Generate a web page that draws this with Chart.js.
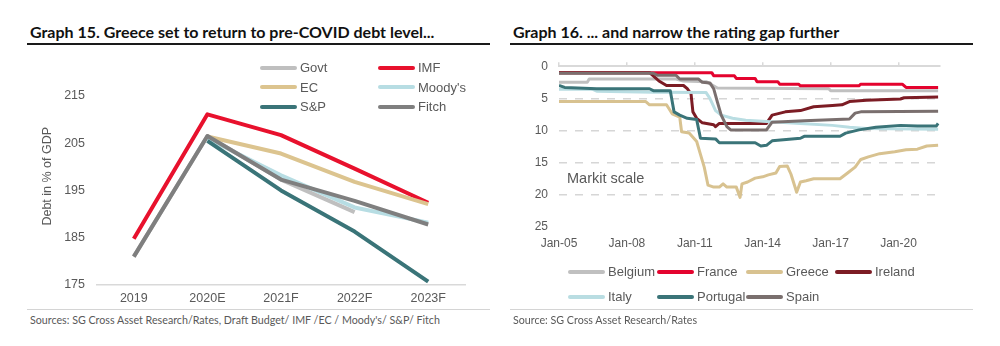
<!DOCTYPE html>
<html>
<head>
<meta charset="utf-8">
<script src="https://cdn.jsdelivr.net/npm/chart.js@4.4.0/dist/chart.umd.min.js"></script>
<style>
    body { margin: 0; width: 1000px; height: 346px; background: #fff; position: relative; overflow: hidden; font-family: "Liberation Sans", Arial, sans-serif; }
    .title { position: absolute; top: 22px; font: 700 16px/19px Lato, sans-serif; color: #111; white-space: nowrap; }
    .rule { position: absolute; top: 43px; height: 2px; background: #1a1a1a; }
    .src-rule { position: absolute; top: 309px; height: 1px; background: #d4d4d4; }
    .src { position: absolute; top: 313px; font: 10.7px/13px Lato, sans-serif; color: #595959; white-space: nowrap; }
    .box { position: absolute; }
    .lg-item { position: absolute; display: flex; align-items: center; font-size: 13px; color: #595959; white-space: nowrap; }
    .lg-item span.sw { display: inline-block; width: 37px; height: 4px; border-radius: 2px; margin-right: 3px; }
    .note { position: absolute; left: 567px; top: 170px; font-size: 14.5px; color: #595959; }
</style>
</head>
<body>
<div class="title" style="left:30px">Graph 15. Greece set to return to pre-COVID debt level...</div>
<div class="rule" style="left:27px;width:463px"></div>
<div class="title" style="left:513px">Graph 16. ... and narrow the rating gap further</div>
<div class="rule" style="left:510px;width:463px"></div>

<div class="box" style="left:0;top:48px;width:500px;height:260px"><canvas id="debt_chart" width="500" height="260"></canvas></div>
<div class="box" style="left:500px;top:48px;width:500px;height:210px"><canvas id="rating_chart" width="500" height="210"></canvas></div>
<div class="note">Markit scale</div>
<div id="debt_legend"></div>
<div id="rating_legend"></div>

<div class="src-rule" style="left:27px;width:463px"></div>
<div class="src" style="left:30px">Sources: SG Cross Asset Research/Rates, Draft Budget/ IMF /EC / Moody's/ S&amp;P/ Fitch</div>
<div class="src-rule" style="left:510px;width:463px"></div>
<div class="src" style="left:513px">Source: SG Cross Asset Research/Rates</div>

<script>
"use strict";

// Graph 15 - debt in % of GDP
var debtYears = ['2019', '2020E', '2021F', '2022F', '2023F'];
var debtTicks = [175, 185, 195, 205, 215];
var govt    = [181, 206.5, 197.3, 190.4, null];
var imf     = [184.8, 211.1, 206.7, 199.6, 192.4];
var ec      = [null, 206.4, 202.8, 196.8, 192.1];
var moodys  = [null, 206.0, 198.2, 191.4, 188.2];
var sp      = [null, 205.5, 195.0, 186.3, 175.7];
var fitch   = [181, 206.5, 197.3, 192.8, 187.8];

// Graph 16 - Markit rating scale, [months since Jan-05, rating]
var ratingTickMonths = [0, 36, 72, 108, 144, 180];
var ratingTickLabels = ['Jan-05', 'Jan-08', 'Jan-11', 'Jan-14', 'Jan-17', 'Jan-20'];
var belgium  = [[0,2.5],[15,2.5],[16,2.0],[62,2.0],[66,2.3],[78,2.4],[84,3.4],[143,3.5],[144,3.8],[201,3.8]];
var france   = [[0,1],[81,1],[82,1.5],[93,1.5],[94,1.9],[104,1.9],[105,2.4],[116,2.4],[117,2.8],[127,2.8],[128,3.05],[159,3.05],[160,2.8],[182,2.8],[184,3.3],[201,3.3]];
var greece   = [[0,5.5],[46,5.5],[48,6.0],[57,6.0],[60,7.4],[64,7.9],[65,10.2],[69,10.4],[73,11.7],[75,13.7],[77,15.7],[79,18.5],[82,18.8],[85,18.8],[87,18.3],[89,18.8],[94,18.8],[96,20.4],[97,18.3],[100,18.0],[104,17.4],[108,17.2],[111,16.9],[115,16.6],[117,15.6],[121,15.5],[123,16.8],[126,19.6],[128,18.0],[131,17.8],[135,17.5],[149,17.5],[153,16.6],[157,15.7],[160,14.5],[164,14.1],[170,13.6],[178,13.3],[184,13.0],[190,12.9],[195,12.4],[201,12.3]];
var ireland  = [[0,1],[48,1],[50,1.5],[53,2.3],[57,3.0],[66,3.0],[68,3.5],[70,4.3],[71,7.1],[73,8.1],[76,8.8],[82,9.1],[83,9.4],[85,8.9],[110,8.9],[113,7.6],[120,7.1],[128,6.9],[135,6.3],[145,6.1],[150,6.0],[154,5.5],[163,5.3],[181,5.1],[183,4.9],[201,4.8]];
var italy    = [[0,3.6],[18,3.6],[20,3.9],[50,4.05],[78,4.1],[80,5.0],[83,6.9],[86,7.6],[92,8.1],[99,8.4],[110,8.6],[128,8.9],[145,9.2],[154,9.5],[163,9.7],[201,9.8]];
var portugal = [[0,3.0],[3,3.3],[20,3.5],[48,3.5],[50,3.8],[59,3.8],[61,7.1],[64,7.6],[68,8.1],[73,8.3],[75,11.2],[83,11.3],[85,11.9],[104,11.9],[107,12.4],[110,12.3],[113,11.6],[128,11.2],[130,10.9],[149,10.9],[152,10.4],[159,9.9],[168,9.5],[181,9.2],[190,9.3],[200,9.3],[201,8.9]];
var spain    = [[0,1.1],[50,1.1],[52,1.4],[62,1.4],[64,2.0],[74,2.0],[76,2.5],[80,2.6],[82,3.5],[84,5.6],[86,7.6],[89,9.4],[91,9.9],[110,9.9],[113,8.7],[130,8.5],[154,8.2],[157,7.3],[160,7.1],[201,7.0]];

var GreeceCharts = function () {
    var tickColor = '#595959';

    // Excel draws the last series on top, Chart.js the lowest order on top
    function lineSet(label, data, color, width, i, n) {
        return {
            label: label,
            data: data,
            borderColor: color,
            backgroundColor: color,
            borderWidth: width,
            pointRadius: 0,
            tension: 0,
            borderJoinStyle: 'round',
            order: n - i
        };
    }

    function buildLegend(id, datasets, x0, y0, colW, rowH, cols) {
        var holder = document.getElementById(id);
        datasets.forEach(function (ds, i) {
            var item = document.createElement('div');
            item.className = 'lg-item';
            item.style.left = (x0 + (i % cols) * colW) + 'px';
            item.style.top = (y0 + Math.floor(i / cols) * rowH - 8) + 'px';
            item.innerHTML = '<span class="sw" style="background:' + ds.borderColor + '"></span>' + ds.label;
            holder.appendChild(item);
        });
    }

    var initDebtChart = function () {
        var names = ['Govt', 'IMF', 'EC', "Moody's", 'S&P', 'Fitch'];
        var series = [govt, imf, ec, moodys, sp, fitch];
        var colors = ['#bfbfbf', '#e8112d', '#dcc48f', '#b7dde3', '#3a7478', '#7f7f7f'];
        var datasets = series.map(function (d, i) {
            return lineSet(names[i], d, colors[i], 4, i, series.length);
        });

        new Chart(document.getElementById('debt_chart'), {
            type: 'line',
            data: { labels: debtYears, datasets: datasets },
            options: {
                responsive: false,
                animation: false,
                devicePixelRatio: 1,
                layout: { padding: { left: 40, right: 35, top: 12, bottom: 0 } },
                plugins: { legend: { display: false }, tooltip: { enabled: false } },
                scales: {
                    x: {
                        offset: true,
                        grid: { display: false, drawTicks: false },
                        border: { display: true, color: '#d9d9d9', width: 1.5 },
                        ticks: { color: tickColor, font: { size: 12.5, family: 'Liberation Sans' }, padding: 6 },
                        afterFit: function (s) { s.height = 23; }
                    },
                    y: {
                        min: 175,
                        max: 221,
                        afterBuildTicks: function (s) { s.ticks = debtTicks.map(function (v) { return { value: v }; }); },
                        grid: { display: false, drawTicks: false },
                        border: { display: false },
                        ticks: { color: tickColor, font: { size: 12.5, family: 'Liberation Sans' }, padding: 12 },
                        title: { display: true, text: 'Debt in % of GDP', color: tickColor, font: { size: 12.5, family: 'Liberation Sans' }, padding: 0 },
                        afterFit: function (s) { s.width = 57; }
                    }
                }
            }
        });

        buildLegend('debt_legend', datasets, 260, 68, 118, 19.5, 2);
    };

    var initRatingChart = function () {
        var names = ['Belgium', 'France', 'Greece', 'Ireland', 'Italy', 'Portugal', 'Spain'];
        var series = [belgium, france, greece, ireland, italy, portugal, spain];
        var colors = ['#c0c0c0', '#e4032e', '#d8c290', '#7c1c24', '#b9dde2', '#3a7478', '#7a6f6e'];
        var datasets = series.map(function (d, i) {
            var pts = d.map(function (p) { return { x: p[0], y: p[1] }; });
            return lineSet(names[i], pts, colors[i], 3, i, series.length);
        });

        var setTicks = function (s) { s.ticks = ratingTickMonths.map(function (v) { return { value: v }; }); };

        new Chart(document.getElementById('rating_chart'), {
            type: 'line',
            data: { datasets: datasets },
            options: {
                responsive: false,
                animation: false,
                devicePixelRatio: 1,
                layout: { padding: { left: 20, right: 60, top: 11, bottom: 0 } },
                plugins: { legend: { display: false }, tooltip: { enabled: false } },
                scales: {
                    x: {
                        type: 'linear',
                        min: 0,
                        max: 202,
                        afterBuildTicks: setTicks,
                        grid: { display: false, drawTicks: false },
                        border: { display: false },
                        ticks: {
                            color: tickColor,
                            font: { size: 12, family: 'Liberation Sans' },
                            padding: 9,
                            maxRotation: 0,
                            callback: function (value) { return ratingTickLabels[ratingTickMonths.indexOf(value)]; }
                        },
                        afterFit: function (s) { s.height = 31; }
                    },
                    xTop: {
                        type: 'linear',
                        position: 'top',
                        min: 0,
                        max: 202,
                        afterBuildTicks: setTicks,
                        grid: { drawOnChartArea: false, drawTicks: true, tickLength: 4, color: '#d9d9d9', lineWidth: 1.5 },
                        border: { display: true, color: '#d9d9d9', width: 2 },
                        ticks: { display: false },
                        afterFit: function (s) { s.height = 4; }
                    },
                    y: {
                        reverse: true,
                        min: 0,
                        max: 25,
                        ticks: { stepSize: 5, color: tickColor, font: { size: 12, family: 'Liberation Sans' }, padding: 11 },
                        grid: {
                            drawTicks: false,
                            lineWidth: 1.5,
                            color: function (c) {
                                var v = c.tick ? c.tick.value : null;
                                return (v === 0 || v === 25) ? 'rgba(0,0,0,0)' : '#d6d6d6';
                            }
                        },
                        border: { display: false, dash: [8, 8] },
                        afterFit: function (s) { s.width = 39; }
                    }
                }
            }
        });

        buildLegend('rating_legend', datasets, 568, 272, 89, 25, 4);
    };

    return {
        init: function () {
            initDebtChart();
            initRatingChart();
        }
    };
}();

GreeceCharts.init();
</script>
</body>
</html>
